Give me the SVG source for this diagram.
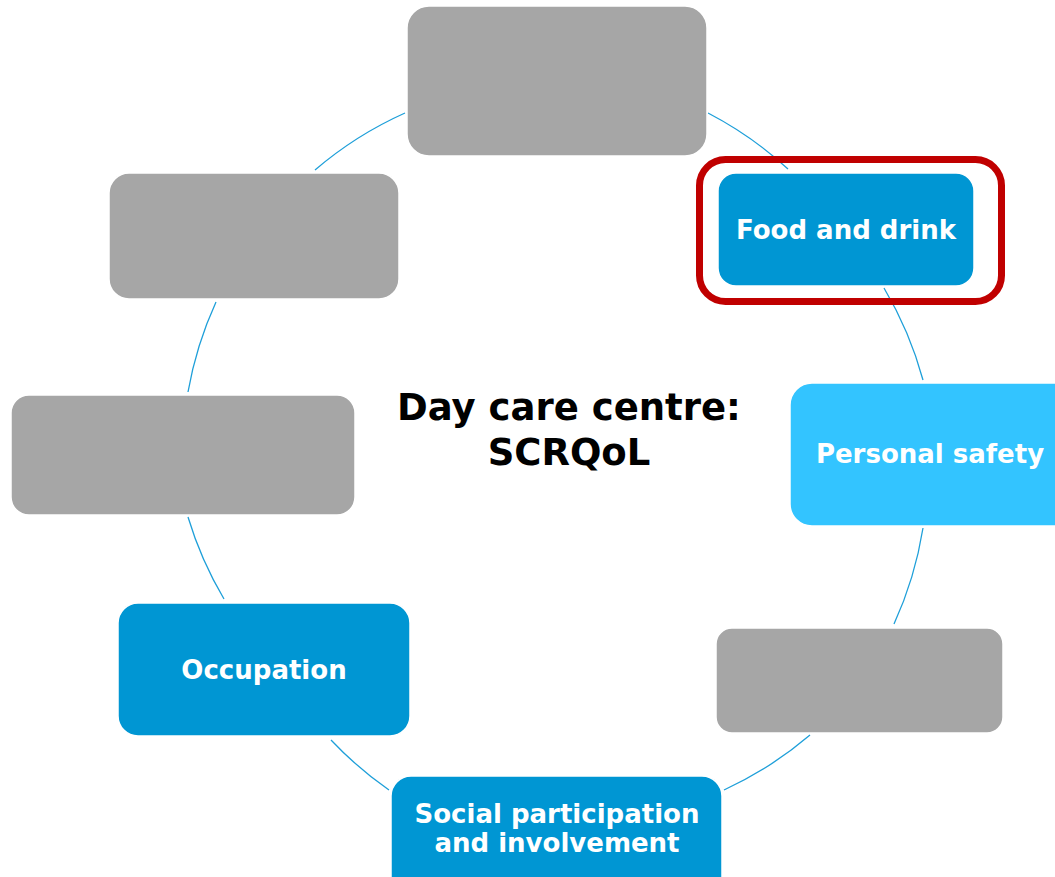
<svg xmlns="http://www.w3.org/2000/svg" width="1055" height="877" viewBox="0 0 1055 877">
<style>
.arc{fill:none;stroke:#1E9FD9;stroke-width:1.3}
.gray{fill:#A6A6A6;stroke:#fff;stroke-width:1.5}
.blue{fill:#0096D3;stroke:#fff;stroke-width:1.5}
.lblue{fill:#33C4FF;stroke:#fff;stroke-width:1.5}
.lbl{font-family:"DejaVu Sans",Verdana,sans-serif;font-weight:bold;font-size:26px;fill:#fff;text-anchor:middle}
.title{font-family:"DejaVu Sans",Verdana,sans-serif;font-weight:bold;font-size:37px;fill:#000;text-anchor:middle}
</style>
<rect width="1055" height="877" fill="#fff"/>
<g id="connectors">
<path class="arc" d="M708,113 A372,372 0 0 1 788,169"/>
<path class="arc" d="M884,288 A372,372 0 0 1 923,380"/>
<path class="arc" d="M923,528 A372,372 0 0 1 894,624"/>
<path class="arc" d="M810,735 A372,372 0 0 1 724,790"/>
<path class="arc" d="M389,790 A372,372 0 0 1 331,740"/>
<path class="arc" d="M224,599 A372,372 0 0 1 188,517"/>
<path class="arc" d="M188,392 A372,372 0 0 1 216,302"/>
<path class="arc" d="M315,170 A372,372 0 0 1 405,113"/>
</g>
<g id="node-top"><rect class="gray" x="407" y="6" width="300" height="150" rx="22"/></g>
<g id="node-food">
<rect class="blue" x="718" y="173" width="256" height="113" rx="18"/>
<text class="lbl" x="846" y="239">Food and drink</text>
</g>
<g id="highlight"><rect x="699.5" y="159.5" width="302" height="142" rx="26" fill="none" stroke="#C00000" stroke-width="7"/></g>
<g id="node-safety">
<rect class="lblue" x="790" y="383" width="290" height="143" rx="22"/>
<text class="lbl" x="930" y="463">Personal safety</text>
</g>
<g id="node-right-gray"><rect class="gray" x="716" y="628" width="287" height="105" rx="16"/></g>
<g id="node-social">
<rect class="blue" x="391" y="776" width="331" height="130" rx="20"/>
<text class="lbl" x="557" y="823">Social participation</text>
<text class="lbl" x="557" y="852">and involvement</text>
</g>
<g id="node-occupation">
<rect class="blue" x="118" y="603" width="292" height="133" rx="20"/>
<text class="lbl" x="264" y="679">Occupation</text>
</g>
<g id="node-left-gray"><rect class="gray" x="11" y="395" width="344" height="120" rx="18"/></g>
<g id="node-upper-left-gray"><rect class="gray" x="109" y="173" width="290" height="126" rx="20"/></g>
<g id="title">
<text class="title" x="569" y="420">Day care centre:</text>
<text class="title" x="569" y="465">SCRQoL</text>
</g>
</svg>
